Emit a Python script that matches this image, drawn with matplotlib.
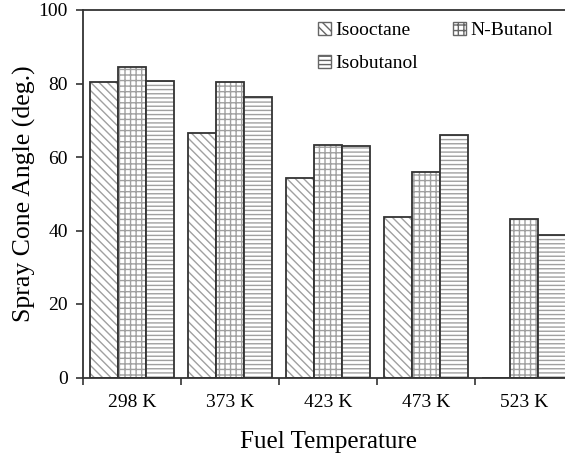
import matplotlib
matplotlib.use("Agg")
import matplotlib.pyplot as plt
import numpy as np
from matplotlib.patches import Patch

categories = ["298 K", "373 K", "423 K", "473 K", "523 K"]
isooctane = [80.4, 66.5, 54.4, 43.7, 0.0]
n_butanol = [84.5, 80.4, 63.4, 55.9, 43.1]
isobutanol = [80.8, 76.3, 62.9, 65.9, 38.8]
series_names = ["Isooctane", "N-Butanol", "Isobutanol"]

plt.rcParams['font.family'] = ['Liberation Serif', 'DejaVu Serif']
plt.rcParams['hatch.linewidth'] = 1.0

W, H = 565, 458
fig = plt.figure(figsize=(W/100, H/100), dpi=100)
left, right, top, bottom = 83, 573, 10, 377.5
ax = fig.add_axes([left/W, (H-bottom)/H, (right-left)/W, (bottom-top)/H])

x = np.arange(len(categories))
bw = 0.285
hatches = ['\\\\\\\\', '+++', '----']
hatch_col = '#a0a0a0'
edge_col = '#333333'
for i, (vals, hatch) in enumerate(zip([isooctane, n_butanol, isobutanol], hatches)):
    pos = x + (i - 1) * bw
    ax.bar(pos, vals, bw, facecolor='white', edgecolor=hatch_col, hatch=hatch, linewidth=0)
    ax.bar(pos, vals, bw, facecolor='none', edgecolor=edge_col, linewidth=1.3)

ax.set_xlim(-0.5, len(categories) - 0.5)
ax.set_ylim(0, 100)
ax.set_yticks([0, 20, 40, 60, 80, 100])
ax.set_xticks(x)
ax.set_xticklabels(categories)
ax.set_xticks(np.arange(len(categories) + 1) - 0.5, minor=True)
ax.tick_params(axis='x', which='major', length=0, labelsize=14, pad=12)
ax.tick_params(axis='x', which='minor', length=5, width=1.2, color='#333333', direction='out')
ax.tick_params(axis='y', length=5, width=1.2, color='#333333', labelsize=14, direction='out', pad=6)
for s in ['left', 'bottom', 'top']:
    ax.spines[s].set_color('#333333')
    ax.spines[s].set_linewidth(1.3)
ax.spines['right'].set_visible(False)

ax.set_ylabel("Spray Cone Angle (deg.)", fontsize=18.5, labelpad=2)
ax.set_xlabel("Fuel Temperature", fontsize=18, labelpad=14)

handles = {}
for name, hatch in zip(series_names, hatches):
    handles[name] = Patch(facecolor='white', edgecolor='#666666', hatch=hatch, linewidth=1.0, label=name)
order = ["Isooctane", "Isobutanol", "N-Butanol"]
leg = ax.legend(handles=[handles[n] for n in order], loc='upper right', ncol=2, frameon=False, fontsize=14,
                handlelength=0.67, handleheight=0.67, handletextpad=0.2, columnspacing=1.85,
                labelspacing=0.8, borderaxespad=0, bbox_to_anchor=(0.975, 0.989))

fig.savefig("out.png", dpi=100)
